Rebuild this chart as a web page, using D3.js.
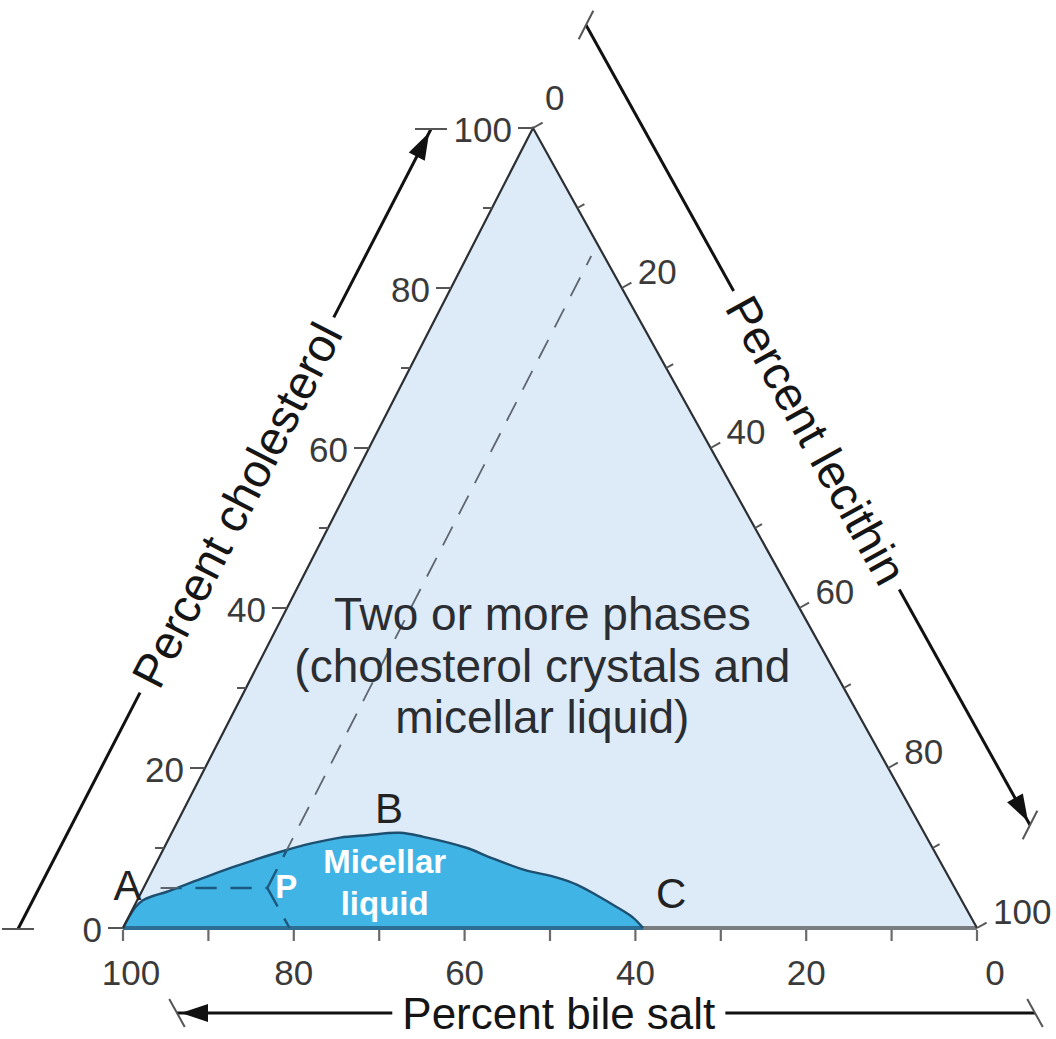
<!DOCTYPE html>
<html><head><meta charset="utf-8">
<script src="https://cdn.jsdelivr.net/npm/d3@7"></script>
<style>
body{margin:0;background:#fff}
svg{display:block}
text{font-family:"Liberation Sans",Arial,Helvetica,sans-serif}
</style>
</head><body>
<svg id="chart" width="1056" height="1039"></svg>
<script>
// ---------------- DATA ----------------
const majorTicks = [0, 20, 40, 60, 80, 100];
const minorTicks = [10, 30, 50, 70, 90];
const cholesterolTickLabels = ["0", "20", "40", "60", "80", "100"];
const lecithinTickLabels = ["0", "20", "40", "60", "80", "100"];
const bileSaltTickLabels = ["100", "80", "60", "40", "20", "0"];
const axisTitles = ["Percent cholesterol", "Percent lecithin", "Percent bile salt"];

// Micellar-liquid boundary A -> B -> C (percent cholesterol, percent lecithin)
const boundaryCholesterol = [0, 1.5, 2.6, 3.5, 4.0, 4.5, 6.1, 7.6, 9.5, 10.6, 11.3, 11.6, 11.9, 11.4, 10.0, 8.8, 7.3, 6.3, 5.4, 4.1, 2.6, 1.3, 0];
const boundaryLecithin    = [0, 0.05, 0.2, 0.7, 1.6, 2.9, 6.1, 9.2, 13.8, 17.1, 20.0, 23.0, 26.7, 29.7, 35.5, 38.8, 43.4, 47.8, 50.6, 53.5, 56.6, 59.1, 60.9];

// Point P (cholesterol, lecithin, bile salt)
const pointP = [5, 14.5, 80.5];
// dashed guide lines through P: end points [cholesterol, lecithin]
const guideCholesterolEnd = [5, 2];      // constant cholesterol towards A
const guideLecithinEnd = [84, 14.5];     // constant lecithin up to the top
const guideBileSaltEnd = [0, 19.5];      // constant bile salt down to the base

const pointLabels = ["A", "B", "C", "P"];
const regionLabelTop = ["Two or more phases", "(cholesterol crystals and", "micellar liquid)"];
const regionLabelMicellar = ["Micellar", "liquid"];

// ---------------- GEOMETRY ----------------
const svg = d3.select("#chart");
const yC = d3.scaleLinear().domain([0, 100]).range([928, 128]);   // cholesterol -> y
const xL = d3.scaleLinear().domain([0, 100]).range([123, 977]);   // lecithin -> x (along base)
const xC = d3.scaleLinear().domain([0, 100]).range([0, 410]);     // cholesterol -> lean of apex
function pt(c, l) { return [xL(l) + xC(c), yC(c)]; }
const seg = (a, b) => `M${a[0]},${a[1]}L${b[0]},${b[1]}`;
const add = (a, b) => [a[0] + b[0], a[1] + b[1]];
const mul = (a, k) => [a[0] * k, a[1] * k];
const sub = (a, b) => [a[0] - b[0], a[1] - b[1]];
const unit = a => { const n = Math.hypot(a[0], a[1]); return [a[0] / n, a[1] / n]; };

const BL = pt(0, 0), TOP = pt(100, 0), BR = pt(0, 100);
const uLeft = unit(sub(TOP, BL));   // direction of left edge (up-right)
const uRight = unit(sub(BR, TOP));  // direction of right edge (down-right)

const defs = svg.append("defs");
const g = svg.append("g");

// triangle fill
g.append("path").attr("d", `M${BL}L${TOP}L${BR}Z`).attr("fill", "#ddeaf7");

// base line (gray)
g.append("path").attr("d", seg(BL, BR)).attr("stroke", "#7a7d80").attr("stroke-width", 4);

// micellar region
const boundary = boundaryCholesterol.map((c, i) => pt(c, boundaryLecithin[i]));
const curve = d3.line().curve(d3.curveCatmullRom.alpha(0.5));
const regionD = curve(boundary) + "Z";
defs.append("clipPath").attr("id", "micClip").append("path").attr("d", regionD);
g.append("path").attr("d", regionD).attr("fill", "#41b4e6");
g.append("path").attr("d", seg(boundary[0], boundary[boundary.length - 1]))
  .attr("stroke", "#2d6e95").attr("stroke-width", 4);
g.append("path").attr("d", curve(boundary)).attr("fill", "none")
  .attr("stroke", "#1d4f70").attr("stroke-width", 2.4);

// dashed guide lines
const P = pt(pointP[0], pointP[1]);
const guides = [
  { a: pt(guideCholesterolEnd[0], guideCholesterolEnd[1]), b: P },
  { a: P, b: pt(guideLecithinEnd[0], guideLecithinEnd[1]) },
  { a: P, b: pt(guideBileSaltEnd[0], guideBileSaltEnd[1]) }
];
guides.forEach(d => {
  g.append("path").attr("d", seg(d.a, d.b)).attr("stroke", "#5d6670").attr("stroke-width", 1.8)
    .attr("stroke-dasharray", "21,14").attr("fill", "none");
  g.append("path").attr("d", seg(d.a, d.b)).attr("stroke", "#1b5a80").attr("stroke-width", 2.4)
    .attr("stroke-dasharray", "21,14").attr("fill", "none").attr("clip-path", "url(#micClip)");
});

// left & right edges
g.append("path").attr("d", `M${BL}L${TOP}L${BR}`).attr("fill", "none")
  .attr("stroke", "#2c2f33").attr("stroke-width", 2.2).attr("stroke-linejoin", "miter");

// ---------------- TICKS ----------------
const tickColor = "#555";
const labelColor = "#3a3a3a";
const allTicks = majorTicks.map(v => ({ v, major: true })).concat(minorTicks.map(v => ({ v, major: false })));

// cholesterol (left edge), horizontal ticks pointing left
allTicks.forEach(t => {
  const p = pt(t.v, 0);
  g.append("path").attr("d", seg(p, [p[0] - (t.major ? 15 : 9), p[1]]))
    .attr("stroke", tickColor).attr("stroke-width", 2);
});
majorTicks.forEach((v, i) => {
  const p = pt(v, 0);
  g.append("text").attr("x", p[0] - 21).attr("y", p[1] + 1).attr("text-anchor", "end")
    .attr("dominant-baseline", "central").attr("font-size", 35).attr("fill", labelColor)
    .text(cholesterolTickLabels[i]);
});

// lecithin (right edge), ticks perpendicular outwards
const nR = [-uRight[1], uRight[0]][0] > 0 ? [-uRight[1], uRight[0]] : [uRight[1], -uRight[0]];
allTicks.forEach(t => {
  const p = pt(100 - t.v, t.v);
  g.append("path").attr("d", seg(p, add(p, mul(nR, t.major ? 11 : 8))))
    .attr("stroke", tickColor).attr("stroke-width", 2);
});
majorTicks.forEach((v, i) => {
  const p = pt(100 - v, v);
  const off = v === 0 ? [12, -31] : [16, -17];
  g.append("text").attr("x", p[0] + off[0]).attr("y", p[1] + off[1]).attr("text-anchor", "start")
    .attr("dominant-baseline", "central").attr("font-size", 35).attr("fill", labelColor)
    .text(lecithinTickLabels[i]);
});

// bile salt (base), vertical ticks
allTicks.forEach(t => {
  const p = pt(0, 100 - t.v);
  g.append("path").attr("d", seg(add(p, [0, 2]), add(p, [0, 13])))
    .attr("stroke", "#6a6a6a").attr("stroke-width", 2.2);
});
const bileVals = [100, 80, 60, 40, 20, 0];
bileVals.forEach((v, i) => {
  const p = pt(0, 100 - v);
  const dx = v === 100 ? 8 : (v === 0 ? 18 : 0);
  g.append("text").attr("x", p[0] + dx).attr("y", p[1] + 57).attr("text-anchor", "middle")
    .attr("font-size", 35).attr("fill", labelColor).text(bileSaltTickLabels[i]);
});

// ---------------- AXIS ARROWS ----------------
function axisArrow(s, e, title, t, capDir, headAtEnd, fs) {
  const dir = unit(sub(e, s));
  const c = add(s, mul(sub(e, s), t));
  const ang = Math.atan2(dir[1], dir[0]) * 180 / Math.PI;
  const txt = g.append("text").attr("transform", `translate(${c[0]},${c[1]}) rotate(${ang})`)
    .attr("text-anchor", "middle").attr("dominant-baseline", "central")
    .attr("font-size", fs).attr("fill", "#151515").text(title);
  const L = txt.node().getComputedTextLength();
  const gap = L / 2 + 10;
  g.append("path").attr("d", seg(s, add(c, mul(dir, -gap)))).attr("stroke", "#111").attr("stroke-width", 3);
  g.append("path").attr("d", seg(add(c, mul(dir, gap)), e)).attr("stroke", "#111").attr("stroke-width", 3);
  [s, e].forEach(p => {
    g.append("path").attr("d", seg(add(p, mul(capDir, -16)), add(p, mul(capDir, 16))))
      .attr("stroke", "#555").attr("stroke-width", 2);
  });
  const d = headAtEnd ? dir : mul(dir, -1);
  const tip = headAtEnd ? add(e, mul(dir, -4)) : add(s, mul(dir, 4));
  const base = add(tip, mul(d, -27));
  const perp = [-d[1], d[0]];
  g.append("path").attr("d", `M${tip}L${add(base, mul(perp, 9))}L${add(base, mul(perp, -9))}Z`)
    .attr("fill", "#111");
}
axisArrow(add(BL, [-105, 1]), add(TOP, [-102, 1]), axisTitles[0], 0.53, [1, 0], true, 47);
axisArrow(add(TOP, [53, -103]), add(BR, [53, -103]), axisTitles[1], 0.519, uLeft, true, 47);
axisArrow(add(BL, [54, 85]), add(BR, [58, 85]), axisTitles[2], 0.445, uRight, false, 44);

// ---------------- LABELS ----------------
const A = pt(5.5, 0), B = pt(11.75, 25.5), C = pt(0, 60.9);
g.append("text").attr("x", A[0] - 4).attr("y", A[1] + 16).attr("text-anchor", "end")
  .attr("font-size", 42).attr("fill", "#222").text(pointLabels[0]);
g.append("text").attr("x", B[0]).attr("y", B[1] - 11).attr("text-anchor", "middle")
  .attr("font-size", 42).attr("fill", "#222").text(pointLabels[1]);
g.append("text").attr("x", C[0] + 13).attr("y", C[1] - 20).attr("text-anchor", "start")
  .attr("font-size", 42).attr("fill", "#222").text(pointLabels[2]);
g.append("text").attr("x", P[0] + 8).attr("y", P[1] + 10).attr("text-anchor", "start")
  .attr("font-size", 33).attr("font-weight", "bold").attr("fill", "#fff").text(pointLabels[3]);

const M = pt(4.25, 28.6);
regionLabelMicellar.forEach((s, i) => {
  g.append("text").attr("x", M[0]).attr("y", M[1] - 21 + i * 42).attr("text-anchor", "middle")
    .attr("font-size", 33).attr("font-weight", "bold").attr("fill", "#fff").text(s);
});
const centroid = pt(100 / 3, 100 / 3);
regionLabelTop.forEach((s, i) => {
  g.append("text").attr("x", centroid[0] - 2).attr("y", centroid[1] - 31 + i * 51.5).attr("text-anchor", "middle")
    .attr("font-size", 46).attr("fill", "#2a2d31").text(s);
});
</script>
</body></html>
